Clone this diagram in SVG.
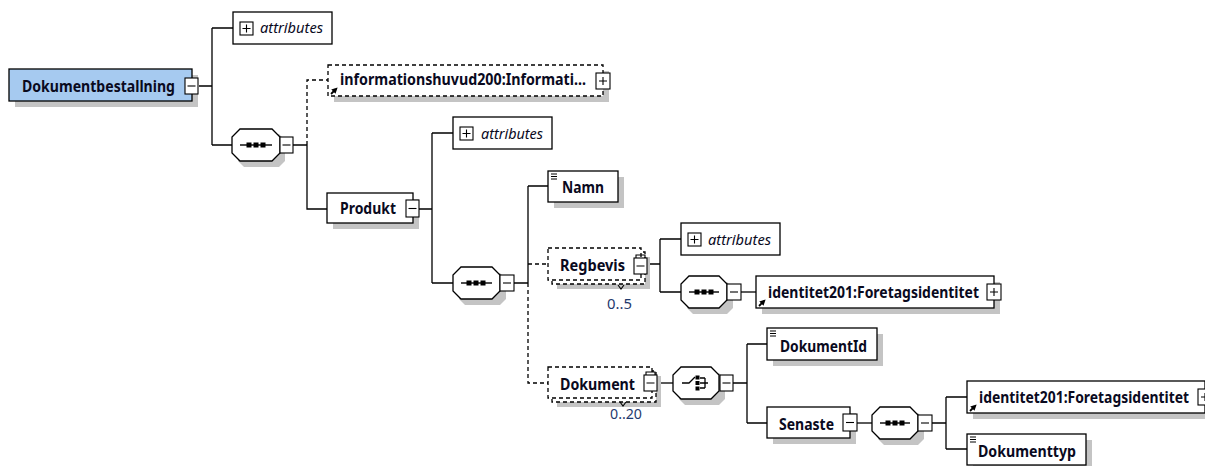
<svg xmlns="http://www.w3.org/2000/svg" width="1205" height="466" viewBox="0 0 1205 466">
<defs>
<style>
.sh{fill:#c4c4c4;stroke:none}
.bx{fill:#fff;stroke:#000;stroke-width:1.3}
.dbx{fill:#fff;stroke:#000;stroke-width:1.3;stroke-dasharray:4,3}
.root{fill:#a6caf0;stroke:#000;stroke-width:1.3}
.t{font-family:"Noto Sans","DejaVu Sans",sans-serif;font-weight:bold;font-size:16px;fill:#0a0a1e}
.at{font-family:"Noto Sans","DejaVu Sans",sans-serif;font-style:italic;font-size:15px;fill:#0a0a1e}
.occ{font-family:"Noto Sans","DejaVu Sans",sans-serif;font-size:14px;fill:#1f3a6e}
.ln{fill:none;stroke:#000;stroke-width:1.3}
.dl{fill:none;stroke:#000;stroke-width:1.3;stroke-dasharray:4,3}
.ib{fill:#fff;stroke:#000;stroke-width:1.1}
.ic{fill:none;stroke:#000;stroke-width:1.1}
.ar{fill:none;stroke:#000;stroke-width:1.8}
.dot{fill:#000}
</style>
<marker id="ar" markerWidth="6" markerHeight="6" refX="3" refY="3" orient="auto" markerUnits="userSpaceOnUse">
<path d="M0,0 L6,3 L0,6 Z" fill="#000"/>
</marker>
</defs>

<g id="connectors">
<path class="ln" d="M199,86 H212 M212,28 V145 M212,28 H233 M212,145 H232"/>
<path class="ln" d="M293,145 H307 M307,145 V209 H327"/>
<path class="dl" d="M307,145 V80 H328"/>
<path class="ln" d="M419,209 H432 M432,133 V283 M432,133 H453 M432,283 H453"/>
<path class="ln" d="M514,283 H528 M528,186 V283 M528,186 H548"/>
<path class="dl" d="M528,283 V383 H548 M528,264 H548"/>
<path class="ln" d="M647,264 H660 M660,239 V292 M660,239 H681 M660,292 H681"/>
<path class="ln" d="M741,292 H756"/>
<path class="ln" d="M657,383 H673"/>
<path class="ln" d="M733,383 H747 M747,344 V423 M747,344 H767 M747,423 H767"/>
<path class="ln" d="M857,423 H872"/>
<path class="ln" d="M932,423 H946 M946,397 V449 M946,397 H967 M946,449 H967"/>
</g>

<g id="node-root">
<rect class="sh" x="15" y="75" width="183" height="32"/>
<rect class="root" x="9" y="69" width="183" height="32"/>
<text class="t" x="22" y="92" textLength="153" lengthAdjust="spacingAndGlyphs">Dokumentbestallning</text>
<rect class="ib" x="185" y="78" width="13" height="16"/>
<path class="ic" d="M187.5,86 H195.5"/>
</g>

<g id="node-attributes1">
<rect class="bx" x="233" y="12" width="99" height="32"/>
<rect class="ib" x="240" y="22" width="13" height="13"/>
<path class="ic" d="M242.5,28.5 H250.5 M246.5,24.5 V32.5"/>
<text class="at" x="260" y="33" textLength="63" lengthAdjust="spacingAndGlyphs">attributes</text>
</g>

<g id="node-seq1">
<path class="sh" d="M244,134 H279 L285,140 V161 L279,167 H244 L238,161 V140 Z"/>
<path class="bx" d="M240,129 H272 L280,137 V153 L272,161 H240 L232,153 V137 Z"/>
<path class="ic" d="M240,145 H272" style="stroke-width:1.4"/>
<rect class="dot" x="246.5" y="142.5" width="5" height="5"/>
<rect class="dot" x="253.5" y="142.5" width="5" height="5"/>
<rect class="dot" x="260.5" y="142.5" width="5" height="5"/>
<rect class="ib" x="280" y="137" width="13" height="16"/>
<path class="ic" d="M282.5,145 H290.5"/>
</g>

<g id="node-informationshuvud">
<rect class="sh" x="334" y="71" width="275" height="31"/>
<rect class="dbx" x="328" y="65" width="275" height="31"/>
<path class="ar" d="M331,94 L335.5,89.5" marker-end="url(#ar)"/>
<text class="t" x="340" y="85" textLength="246" lengthAdjust="spacingAndGlyphs">informationshuvud200:Informati...</text>
<rect class="ib" x="596" y="73" width="14" height="16"/>
<path class="ic" d="M599,81 H607 M603,77 V85"/>
</g>

<g id="node-produkt">
<rect class="sh" x="333" y="199" width="86" height="30"/>
<rect class="bx" x="327" y="193" width="86" height="30"/>
<text class="t" x="340" y="214" textLength="56" lengthAdjust="spacingAndGlyphs">Produkt</text>
<rect class="ib" x="406" y="200" width="13" height="17"/>
<path class="ic" d="M408.5,208.5 H416.5"/>
</g>

<g id="node-attributes2">
<rect class="bx" x="453" y="117" width="99" height="32"/>
<rect class="ib" x="460" y="127" width="13" height="13"/>
<path class="ic" d="M462.5,133.5 H470.5 M466.5,129.5 V137.5"/>
<text class="at" x="481" y="139" textLength="62" lengthAdjust="spacingAndGlyphs">attributes</text>
</g>

<g id="node-seq2">
<path class="sh" d="M465,273 H500 L506,279 V299 L500,305 H465 L459,299 V279 Z"/>
<path class="bx" d="M461,267 H492 L500,275 V291 L492,299 H461 L453,291 V275 Z"/>
<path class="ic" d="M461,283 H492" style="stroke-width:1.4"/>
<rect class="dot" x="466.5" y="280.5" width="5" height="5"/>
<rect class="dot" x="473.5" y="280.5" width="5" height="5"/>
<rect class="dot" x="480.5" y="280.5" width="5" height="5"/>
<rect class="ib" x="500" y="275" width="14" height="16"/>
<path class="ic" d="M503,283 H511"/>
</g>

<g id="node-namn">
<rect class="sh" x="554" y="177" width="70" height="31"/>
<rect class="bx" x="548" y="171" width="70" height="31"/>
<path class="ic" d="M551,174 H557 M551,176.5 H557 M551,179 H557"/>
<text class="t" x="562" y="193" textLength="42" lengthAdjust="spacingAndGlyphs">Namn</text>
</g>

<g id="node-regbevis">
<rect class="sh" x="557" y="257" width="93" height="32"/>
<rect class="dbx" x="552" y="252" width="93" height="32"/>
<rect class="dbx" x="548" y="248" width="93" height="32"/>
<rect class="ib" x="634" y="258" width="13" height="16"/>
<path class="ic" d="M636.5,266 H644.5 M636,258 V255 H645 V258"/>
<path class="ic" d="M618,285 L621,289 L624,285"/>
<text class="t" x="560" y="271" textLength="65" lengthAdjust="spacingAndGlyphs">Regbevis</text>
<text class="occ" x="607" y="309" textLength="25" lengthAdjust="spacingAndGlyphs">0..5</text>
</g>

<g id="node-attributes3">
<rect class="bx" x="681" y="223" width="99" height="32"/>
<rect class="ib" x="688" y="233" width="13" height="13"/>
<path class="ic" d="M690.5,239.5 H698.5 M694.5,235.5 V243.5"/>
<text class="at" x="708" y="245" textLength="63" lengthAdjust="spacingAndGlyphs">attributes</text>
</g>

<g id="node-seq3">
<path class="sh" d="M693,282 H727 L733,288 V308 L727,314 H693 L687,308 V288 Z"/>
<path class="bx" d="M689,276 H719 L727,284 V300 L719,308 H689 L681,300 V284 Z"/>
<path class="ic" d="M689,292 H719" style="stroke-width:1.4"/>
<rect class="dot" x="694.5" y="289.5" width="5" height="5"/>
<rect class="dot" x="701.5" y="289.5" width="5" height="5"/>
<rect class="dot" x="708.5" y="289.5" width="5" height="5"/>
<rect class="ib" x="727" y="284" width="14" height="16"/>
<path class="ic" d="M730,292 H738"/>
</g>

<g id="node-identitet1">
<rect class="sh" x="762" y="282" width="238" height="32"/>
<rect class="bx" x="756" y="276" width="238" height="32"/>
<path class="ar" d="M759,306 L763.5,301.5" marker-end="url(#ar)"/>
<text class="t" x="768" y="298" textLength="211" lengthAdjust="spacingAndGlyphs">identitet201:Foretagsidentitet</text>
<rect class="ib" x="987" y="284" width="14" height="16"/>
<path class="ic" d="M990,292 H998 M994,288 V296"/>
</g>

<g id="node-dokument">
<rect class="sh" x="557" y="376" width="104" height="31"/>
<rect class="dbx" x="552" y="371" width="104" height="31"/>
<rect class="dbx" x="548" y="367" width="104" height="31"/>
<rect class="ib" x="644" y="375" width="13" height="16"/>
<path class="ic" d="M646.5,383 H654.5 M646,375 V372 H655 V375"/>
<path class="ic" d="M620,402 L623,406 L626,402"/>
<text class="t" x="560" y="390" textLength="75" lengthAdjust="spacingAndGlyphs">Dokument</text>
<text class="occ" x="610" y="419" textLength="32" lengthAdjust="spacingAndGlyphs">0..20</text>
</g>

<g id="node-choice">
<path class="sh" d="M685,373 H719 L725,379 V399 L719,405 H685 L679,399 V379 Z"/>
<path class="bx" d="M681,367 H711 L719,375 V391 L711,399 H681 L673,391 V375 Z"/>
<path class="ic" d="M682,383 H689 L695,377 M700,378 H705 M700,383 H708 M700,388 H705 M705,378 V388" style="stroke-width:1.3"/>
<rect class="dot" x="695.5" y="375.5" width="4" height="4"/>
<rect class="dot" x="695.5" y="381" width="4" height="4"/>
<rect class="dot" x="695.5" y="386.5" width="4" height="4"/>
<rect class="ib" x="720" y="375" width="13" height="16"/>
<path class="ic" d="M722.5,383 H730.5"/>
</g>

<g id="node-dokumentid">
<rect class="sh" x="773" y="334" width="110" height="32"/>
<rect class="bx" x="767" y="328" width="110" height="32"/>
<path class="ic" d="M770,331 H776 M770,333.5 H776 M770,336 H776"/>
<text class="t" x="780" y="352" textLength="87" lengthAdjust="spacingAndGlyphs">DokumentId</text>
</g>

<g id="node-senaste">
<rect class="sh" x="773" y="413" width="83" height="31"/>
<rect class="bx" x="767" y="407" width="83" height="31"/>
<text class="t" x="779" y="430" textLength="55" lengthAdjust="spacingAndGlyphs">Senaste</text>
<rect class="ib" x="843" y="414" width="14" height="17"/>
<path class="ic" d="M846,422.5 H854"/>
</g>

<g id="node-seq4">
<path class="sh" d="M884,413 H918 L924,419 V439 L918,445 H884 L878,439 V419 Z"/>
<path class="bx" d="M880,407 H910 L918,415 V431 L910,439 H880 L872,431 V415 Z"/>
<path class="ic" d="M880,423 H910" style="stroke-width:1.4"/>
<rect class="dot" x="885.5" y="420.5" width="5" height="5"/>
<rect class="dot" x="892.5" y="420.5" width="5" height="5"/>
<rect class="dot" x="899.5" y="420.5" width="5" height="5"/>
<rect class="ib" x="918" y="415" width="14" height="16"/>
<path class="ic" d="M921,423 H929"/>
</g>

<g id="node-identitet2">
<rect class="sh" x="973" y="387" width="238" height="32"/>
<rect class="bx" x="967" y="381" width="238" height="32"/>
<path class="ar" d="M970,411 L974.5,406.5" marker-end="url(#ar)"/>
<text class="t" x="979" y="403" textLength="210" lengthAdjust="spacingAndGlyphs">identitet201:Foretagsidentitet</text>
<rect class="ib" x="1198" y="389" width="14" height="16"/>
<path class="ic" d="M1201,397 H1209 M1205,393 V401"/>
</g>

<g id="node-dokumenttyp">
<rect class="sh" x="973" y="440" width="119" height="31"/>
<rect class="dbx" x="967" y="434" width="119" height="31" style="stroke-dasharray:none"/>
<path class="ic" d="M970,437 H976 M970,439.5 H976 M970,442 H976"/>
<text class="t" x="978" y="457" textLength="98" lengthAdjust="spacingAndGlyphs">Dokumenttyp</text>
</g>
</svg>
